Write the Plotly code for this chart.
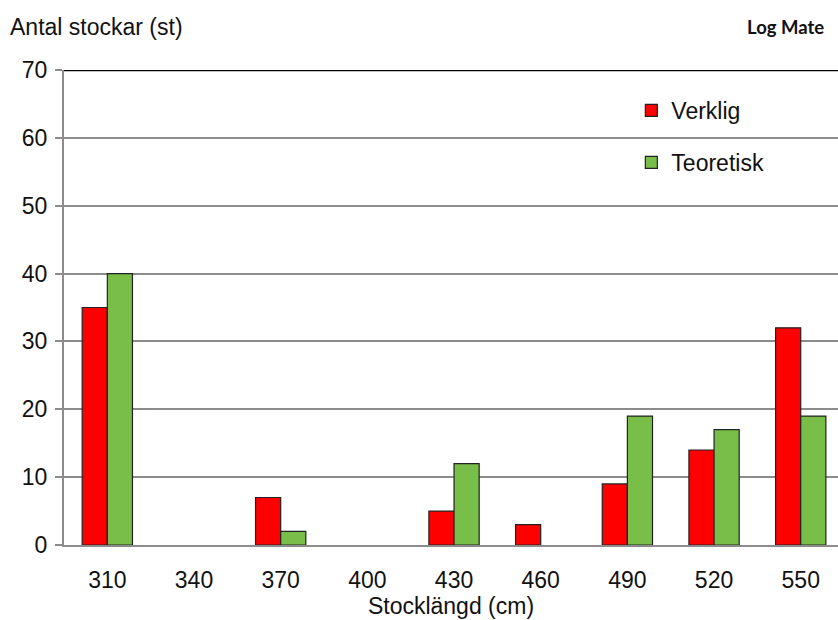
import plotly.graph_objects as go

categories = ["310", "340", "370", "400", "430", "460", "490", "520", "550"]
verklig = [35, 0, 7, 0, 5, 3, 9, 14, 32]
teoretisk = [40, 0, 2, 0, 12, 0, 19, 17, 19]
y_ticks = [0, 10, 20, 30, 40, 50, 60, 70]

FONT = "Liberation Sans, Arial, sans-serif"
FS = 23


def outline(vals):
    return [1.2 if v > 0 else 0 for v in vals]


fig = go.Figure()
fig.add_trace(go.Bar(x=categories, y=verklig, name="Verklig",
                     marker=dict(color="#FF0000", line=dict(color="#222222", width=outline(verklig))),
                     legendgroup="a"))
fig.add_trace(go.Bar(x=categories, y=teoretisk, name="Teoretisk",
                     marker=dict(color="#78BE48", line=dict(color="#222222", width=outline(teoretisk))),
                     legendgroup="b"))

fig.update_layout(
    width=838, height=620,
    margin=dict(l=64, r=0, t=70, b=75),
    paper_bgcolor="white", plot_bgcolor="white",
    font=dict(family=FONT, size=FS, color="#111111"),
    barmode="group", bargap=0.42, bargroupgap=0,
    showlegend=True,
    legend=dict(x=0.733, y=0.96, xanchor="left", yanchor="top",
                bgcolor="rgba(0,0,0,0)", font=dict(size=FS),
                tracegroupgap=19, traceorder="grouped",
                itemwidth=30),
    xaxis=dict(range=[-0.5, 8.43], showgrid=False, showline=True,
               linecolor="#8c8c8c", linewidth=2, ticks="",
               ticklabelstandoff=13,
               title=dict(text="Stocklängd (cm)", standoff=4, font=dict(size=FS))),
    yaxis=dict(range=[0, 70], tickvals=y_ticks, showgrid=True,
               gridcolor="#8c8c8c", gridwidth=1.5, showline=True,
               linecolor="#8c8c8c", linewidth=2, ticks="outside",
               ticklen=7, tickcolor="#8c8c8c", tickwidth=1.5,
               ticklabelstandoff=3, zeroline=False),
    annotations=[
        dict(text="Antal stockar (st)", xref="paper", yref="paper",
             x=(8 - 64) / 774, y=(545 - 27) / 475, xanchor="left", yanchor="middle",
             showarrow=False, font=dict(size=FS, family=FONT)),
        dict(text="<b>Log Mate</b>", xref="paper", yref="paper",
             x=(826 - 64) / 774, y=(545 - 27) / 475, xanchor="right", yanchor="middle",
             showarrow=False, font=dict(size=18.5, family="Lato, Open Sans, sans-serif")),
    ],
    shapes=[dict(type="line", xref="paper", yref="y", x0=0, x1=1, y0=70, y1=70,
                 line=dict(color="black", width=2.5), layer="above")],
)

fig.write_html("out.html", config={"displayModeBar": False},
               post_script="document.body.style.margin='0';")
